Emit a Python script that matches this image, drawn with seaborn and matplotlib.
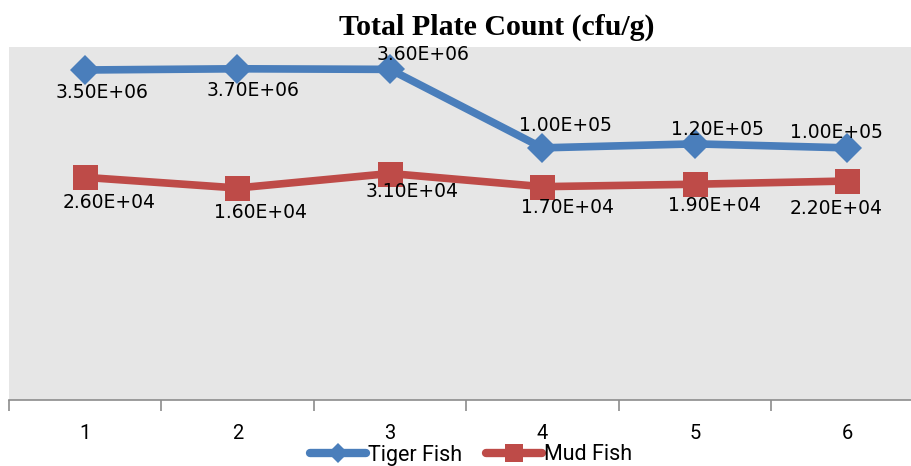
import numpy as np
import pandas as pd
import seaborn as sns
import matplotlib.pyplot as plt

# values
samples = [1, 2, 3, 4, 5, 6]
tiger_fish = [3.5e6, 3.7e6, 3.6e6, 1.0e5, 1.2e5, 1.0e5]
mud_fish = [2.6e4, 1.6e4, 3.1e4, 1.7e4, 1.9e4, 2.2e4]
tiger_text = ["3.50E+06", "3.70E+06", "3.60E+06", "1.00E+05", "1.20E+05", "1.00E+05"]
mud_text = ["2.60E+04", "1.60E+04", "3.10E+04", "1.70E+04", "1.90E+04", "2.20E+04"]

df = pd.DataFrame({
    "Sample": samples * 2,
    "Count": tiger_fish + mud_fish,
    "Fish": ["Tiger Fish"] * 6 + ["Mud Fish"] * 6,
})

sns.set_style("white")
plt.rcParams["font.family"] = ["DejaVu Sans"]
plt.rcParams["text.color"] = "black"

blue = "#4A7EBB"
red = "#BE4B48"

fig = plt.figure(figsize=(9.12, 4.66), dpi=100)
ax = fig.add_axes([8.7 / 912, 66 / 466, 915 / 912, 353 / 466])
ax.set_facecolor("#E6E6E6")

sns.lineplot(data=df, x="Sample", y="Count", hue="Fish", style="Fish",
             palette={"Tiger Fish": blue, "Mud Fish": red},
             markers={"Tiger Fish": "D", "Mud Fish": "s"}, dashes=False,
             markersize=18, markeredgewidth=0, linewidth=5.5, legend=False, ax=ax)
# diamond a bit smaller than square
ax.lines[0].set_markersize(15)

ax.set_yscale("log")
ax.set_ylim(1, 1e7)
ax.set_xlim(0.5, 6.5)
ax.minorticks_off()
ax.set_yticks([])
ax.set_yticks([], minor=True)
ax.set_xticks(samples)
ax.set_xticks(np.arange(0.5, 7.0, 1.0), minor=True)
ax.tick_params(axis="x", which="major", bottom=False, length=0, pad=17,
               labelcolor="black", labelsize=14.5)
ax.tick_params(axis="x", which="minor", bottom=True, length=8, width=1.2,
               color="#8C8C8C", direction="out")
for lab in ax.get_xticklabels():
    lab.set_family(["Roboto", "DejaVu Sans"])
ax.set_xlabel("")
ax.set_ylabel("")
for s in ["top", "left", "right"]:
    ax.spines[s].set_visible(False)
ax.spines["bottom"].set_color("#8C8C8C")
ax.spines["bottom"].set_linewidth(1.2)

# label offsets in pixels (dx, dy), y upward
tiger_off = [(17, -23), (16, -22), (33, 15), (23, 22), (22, 14), (-11, 15)]
mud_off = [(24, -25), (23, -25), (22, -18), (25, -21), (20, -21), (-11, -27)]
for x, y, t, (dx, dy) in zip(samples, tiger_fish, tiger_text, tiger_off):
    ax.annotate(t, (x, y), xytext=(dx * 0.72, dy * 0.72), textcoords="offset points",
                ha="center", va="center", fontsize=13.5, color="black")
for x, y, t, (dx, dy) in zip(samples, mud_fish, mud_text, mud_off):
    ax.annotate(t, (x, y), xytext=(dx * 0.72, dy * 0.72), textcoords="offset points",
                ha="center", va="center", fontsize=13.5, color="black")

fig.text(497 / 912, 1 - 27 / 466, "Total Plate Count (cfu/g)", ha="center", va="center",
         fontsize=21.5, fontweight="bold", family="Liberation Serif", color="black")

h1, = ax.plot([], [], color=blue, lw=6, marker="D", ms=10, mew=0)
h2, = ax.plot([], [], color=red, lw=6, marker="s", ms=13, mew=0)
fig.legend([h1, h2], ["Tiger Fish", "Mud Fish"], loc="center", ncol=2,
           bbox_to_anchor=(471 / 912, 1 - 455 / 466), frameon=False,
           handlelength=2.6, handletextpad=0.1, columnspacing=1.1,
           borderpad=0, prop={"family": ["Roboto", "DejaVu Sans"], "size": 15.5})

fig.savefig("out.png", dpi=100)
